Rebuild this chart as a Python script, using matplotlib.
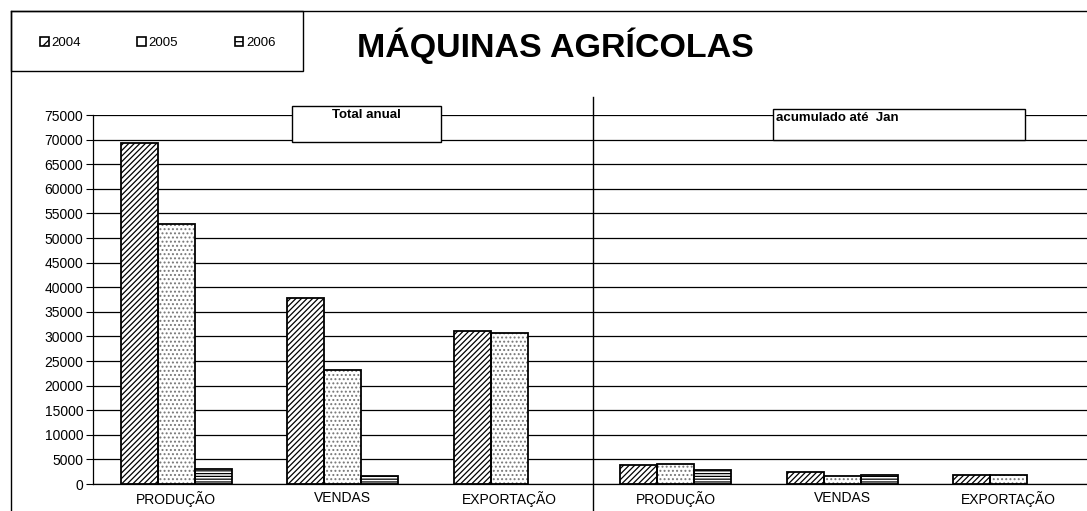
import matplotlib
matplotlib.use("Agg")
import matplotlib.pyplot as plt
from matplotlib.patches import Rectangle
from matplotlib.lines import Line2D
import numpy as np

plt.rcParams['font.family'] = ['Liberation Sans', 'DejaVu Sans']
plt.rcParams['hatch.linewidth'] = 0.9

categories = ["PRODUÇÃO", "VENDAS", "EXPORTAÇÃO", "PRODUÇÃO", "VENDAS", "EXPORTAÇÃO"]
years = ["2004", "2005", "2006"]
v2004 = [69400, 37800, 31000, 3950, 2450, 1900]
v2005 = [52800, 23100, 30700, 4050, 1700, 1850]
v2006 = [3000, 1700, 0, 2900, 1750, 0]
series = [v2004, v2005, v2006]
hatches = ["//////", "....", "------"]
hatch_colors = ["black", "#777777", "black"]
legend_hatches = ["///", "", "---"]
panel_labels = ["Total anual", "acumulado até  Jan"]
title = "MÁQUINAS AGRÍCOLAS"

W, H = 1087, 511
fig = plt.figure(figsize=(W / 100, H / 100), dpi=100)

def fx(px):
    return px / W

def fy(py):
    return (H - py) / H

ax_left, ax_right = 93, 1092
ax_top, ax_bot = 115, 484
ax = fig.add_axes([fx(ax_left), fy(ax_bot), fx(ax_right - ax_left), (ax_bot - ax_top) / H])

x = np.arange(len(categories))
bw = 0.222
handles = []
for i, (vals, h, hc, lh) in enumerate(zip(series, hatches, hatch_colors, legend_hatches)):
    pos = x + (i - 1) * bw
    vals_arr = np.array(vals, dtype=float)
    mask = vals_arr > 0
    ax.bar(pos[mask], vals_arr[mask], width=bw, color='white', edgecolor=hc,
           hatch=h, linewidth=0, zorder=3)
    ax.bar(pos[mask], vals_arr[mask], width=bw, fill=False, edgecolor='black',
           linewidth=1.3, zorder=4)
    handles.append(Rectangle((0, 0), 1, 1, facecolor='white', edgecolor='black',
                             hatch=lh, linewidth=1.2))

ax.set_xlim(-0.5, len(categories) - 0.5)
ax.set_ylim(0, 75000)
ax.set_yticks(np.arange(0, 75001, 5000))
ax.set_xticks(x)
ax.set_xticklabels(categories, fontsize=10)
ax.tick_params(axis='x', length=0, pad=5)
ax.tick_params(axis='y', length=5, width=0.8, labelsize=10, pad=2, direction='out')
ax.yaxis.grid(True, color='black', linewidth=0.9, zorder=0)
ax.set_axisbelow(True)
for s in ['top', 'right']:
    ax.spines[s].set_visible(False)
ax.spines['left'].set_linewidth(0.9)
ax.spines['bottom'].set_linewidth(0.9)
ax.axvline(2.5, ymin=(ax_bot - H) / (ax_bot - ax_top), ymax=(ax_bot - 97) / (ax_bot - ax_top),
           color='black', linewidth=1.0, clip_on=False, zorder=5)

# outer frame lines
fig.add_artist(Line2D([fx(11), fx(11)], [fy(11), fy(511)], color='black', linewidth=1.0))
fig.add_artist(Line2D([fx(11), fx(1087)], [fy(11), fy(11)], color='black', linewidth=1.0))

# legend box
fig.add_artist(Rectangle((fx(11), fy(71)), fx(303 - 11), (71 - 11) / H, facecolor='white',
                         edgecolor='black', linewidth=1.0))
leg = fig.legend(handles, years, loc='center left', bbox_to_anchor=(fx(40), fy(43)),
                 ncol=3, frameon=False, fontsize=9.5, handlelength=0.65, handleheight=0.65,
                 handletextpad=0.2, columnspacing=4.3, borderpad=0, borderaxespad=0)

fig.text(fx(555), fy(46), title, fontsize=24.5, fontweight='bold', ha='center', va='center')

# panel label boxes
fig.add_artist(Rectangle((fx(292), fy(142)), fx(441 - 292), (142 - 106) / H, facecolor='white',
                         edgecolor='black', linewidth=1.0, zorder=6))
fig.text(fx(366), fy(109), panel_labels[0], fontsize=9.5, fontweight='bold', ha='center', va='top', zorder=7)
fig.add_artist(Rectangle((fx(773), fy(140)), fx(1025 - 773), (140 - 109) / H, facecolor='white',
                         edgecolor='black', linewidth=1.0, zorder=6))
fig.text(fx(776), fy(112), panel_labels[1], fontsize=9.5, fontweight='bold', ha='left', va='top', zorder=7)

fig.savefig("out.png", dpi=100)
